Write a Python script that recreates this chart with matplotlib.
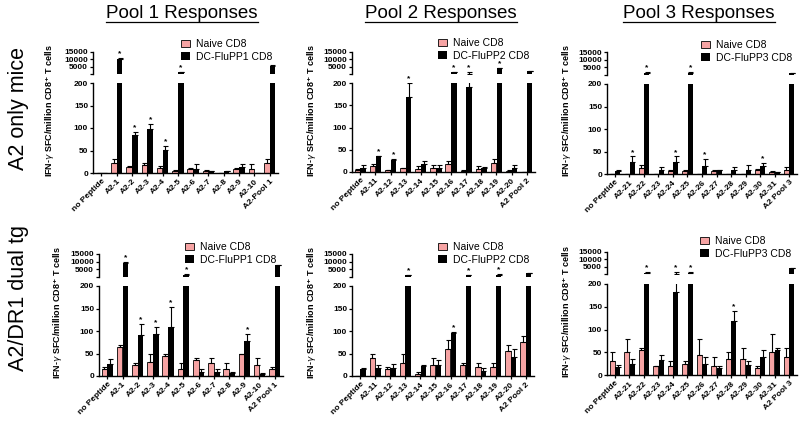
import numpy as np
import matplotlib
matplotlib.use('Agg')
import matplotlib.pyplot as plt
from matplotlib.lines import Line2D

plt.rcParams['font.family'] = ['Liberation Sans', 'DejaVu Sans']

W, H = 800, 421
NAIVE_COLOR = '#f6a3a3'

# ---------------- data ----------------
# row 1 : A2 only mice
labels_p1 = ['no Peptide', 'A2-1', 'A2-2', 'A2-3', 'A2-4', 'A2-5', 'A2-6', 'A2-7',
             'A2-8', 'A2-9', 'A2-10', 'A2-Pool 1']
a2_p1_naive = [0, 23, 13, 17, 11, 5, 9, 5, 0, 10, 10, 23]
a2_p1_naive_err = [0, 8, 3, 6, 5, 1, 3, 2, 0, 2, 10, 8]
a2_p1_dc = [0, 10000, 85, 98, 51, 1200, 10, 5, 4, 13, 0, 5500]
a2_p1_dc_err = [0, 800, 6, 11, 9, 300, 10, 0, 1, 8, 0, 600]
a2_p1_stars = [1, 2, 3, 4, 5]

labels_p2 = ['no Peptide', 'A2-11', 'A2-12', 'A2-13', 'A2-14', 'A2-15', 'A2-16', 'A2-17',
             'A2-18', 'A2-19', 'A2-20', 'A2 Pool 2']
a2_p2_naive = [5, 13, 4, 8, 7, 10, 17, 3, 7, 20, 3, 0]
a2_p2_naive_err = [1, 4, 1, 2, 7, 6, 8, 1, 6, 10, 2, 0]
a2_p2_dc = [10, 35, 28, 168, 17, 10, 1200, 190, 10, 3800, 10, 2000]
a2_p2_dc_err = [6, 2, 2, 32, 8, 6, 300, 900, 1, 400, 5, 300]
a2_p2_stars = [1, 2, 3, 6, 7, 9]

labels_p3 = ['no Peptide', 'A2-21', 'A2-22', 'A2-23', 'A2-24', 'A2-25', 'A2-26', 'A2-27',
             'A2-28', 'A2-29', 'A2-30', 'A2-31', 'A2 Pool 3']
a2_p3_naive = [0, 0, 13, 0, 7, 7, 0, 7, 0, 0, 10, 4, 10]
a2_p3_naive_err = [0, 0, 8, 0, 3, 3, 0, 3, 0, 0, 2, 2, 5]
a2_p3_dc = [7, 27, 1200, 10, 27, 1200, 17, 9, 9, 10, 17, 4, 1000]
a2_p3_dc_err = [2, 12, 300, 6, 12, 300, 17, 1, 6, 10, 8, 1, 300]
a2_p3_stars = [1, 2, 4, 5, 6, 10]

# row 2 : A2/DR1 dual tg
labels_q1 = ['no Peptide', 'A2-1', 'A2-2', 'A2-3', 'A2-4', 'A2-5', 'A2-6', 'A2-7',
             'A2-8', 'A2-9', 'A2-10', 'A2 Pool 1']
dr_p1_naive = [15, 65, 24, 31, 45, 15, 35, 30, 15, 50, 25, 15]
dr_p1_naive_err = [5, 5, 6, 19, 5, 15, 5, 10, 15, 0, 15, 5]
dr_p1_dc = [26, 9000, 91, 93, 108, 1200, 10, 9, 7, 78, 5, 7500]
dr_p1_dc_err = [11, 600, 24, 15, 45, 300, 6, 7, 3, 16, 2, 500]
dr_p1_stars = [1, 2, 3, 4, 5, 9]

dr_p2_naive = [0, 40, 15, 30, 5, 25, 60, 25, 20, 20, 55, 75]
dr_p2_naive_err = [0, 10, 5, 20, 3, 15, 20, 5, 10, 10, 15, 15]
dr_p2_dc = [15, 17, 17, 1000, 23, 25, 96, 1000, 12, 1200, 43, 2300]
dr_p2_dc_err = [3, 7, 10, 300, 2, 10, 2, 300, 5, 300, 17, 300]
dr_p2_stars = [3, 6, 7, 9]

dr_p3_naive = [30, 50, 55, 20, 20, 25, 45, 20, 35, 35, 15, 50, 40]
dr_p3_naive_err = [20, 30, 5, 0, 10, 5, 35, 20, 15, 25, 5, 40, 20]
dr_p3_dc = [18, 25, 1000, 33, 183, 1000, 25, 15, 118, 22, 40, 55, 3800]
dr_p3_dc_err = [5, 10, 300, 10, 900, 300, 15, 5, 22, 8, 15, 5, 300]
dr_p3_stars = [2, 4, 5, 8]

titles = ['Pool 1 Responses', 'Pool 2 Responses', 'Pool 3 Responses']
row_labels = ['A2 only mice', 'A2/DR1 dual tg']
dc_names = ['DC-FluPP1 CD8', 'DC-FluPP2 CD8', 'DC-FluPP3 CD8']
ylabel = r'IFN-$\gamma$ SFC/million CD8$^{\mathbf{+}}$ T cells'


def rect(x0, x1, ytop, ybot):
    return [x0 / W, 1 - ybot / H, (x1 - x0) / W, (ybot - ytop) / H]


def bold_ticks(ax):
    for t in ax.get_yticklabels() + ax.get_xticklabels():
        t.set_fontweight('bold')


def panel(fig, box, labels, naive, naive_err, dc, dc_err, stars, dc_name, leg_xy, ylab_xy):
    xl, xr, up_t, up_b, lo_t, lo_b = box
    n = len(labels)
    x = np.arange(n)
    naive = np.asarray(naive, float)
    naive_err = np.asarray(naive_err, float)
    dc = np.asarray(dc, float)
    dc_err = np.asarray(dc_err, float)
    w, off = 0.37, 0.19
    eb = dict(fmt='none', ecolor='black', elinewidth=0.8, capsize=1.8, capthick=0.8)

    lo = fig.add_axes(rect(xl, xr, lo_t, lo_b))
    hi = fig.add_axes(rect(xl, xr, up_t, up_b))

    # lower segment 0-200
    b1 = lo.bar(x - off, naive, w, color=NAIVE_COLOR, edgecolor='black', linewidth=0.6)
    b2 = lo.bar(x + off, dc, w, color='black')
    lo.errorbar(x - off, naive, yerr=[np.zeros(n), naive_err], **eb)
    lo.errorbar(x + off, dc, yerr=[np.zeros(n), dc_err], **eb)
    lo.set_ylim(0, 200)
    lo.set_xlim(-0.55, n - 0.45)
    lo.set_yticks([0, 50, 100, 150, 200])
    lo.set_xticks(x)
    lo.set_xticklabels(labels, rotation=45, ha='right', va='top', rotation_mode='anchor')

    # upper segment, only what reaches past the break
    big = dc > 200
    reach = dc + dc_err > 200
    hi.bar(x[big] + off, dc[big], w, color='black')
    hi.errorbar(x[reach] + off, dc[reach], yerr=[np.zeros(reach.sum()), dc_err[reach]], **eb)
    hi.set_ylim(0, 15000)
    hi.set_xlim(-0.55, n - 0.45)
    hi.set_yticks([0, 5000, 10000, 15000])
    hi.set_yticklabels(['', '5000', '10000', '15000'])
    hi.set_xticks([])
    hi.spines['bottom'].set_visible(False)
    hi.patch.set_alpha(0)

    for ax in (lo, hi):
        ax.spines['top'].set_visible(False)
        ax.spines['right'].set_visible(False)
        for s in ax.spines.values():
            s.set_linewidth(1.0)
        ax.tick_params(length=2.5, width=0.9, labelsize=6, pad=1)
        bold_ticks(ax)

    for i in stars:
        top = dc[i] + dc_err[i]
        tgt = hi if top > 200 else lo
        tgt.annotate('*', (x[i] + off, top), xytext=(0, 0.5), textcoords='offset points',
                     ha='center', va='bottom', fontsize=6, fontweight='bold',
                     annotation_clip=False)

    fig.legend([b1, b2], ['Naive CD8', dc_name], loc='upper left',
               bbox_to_anchor=(leg_xy[0] / W, 1 - leg_xy[1] / H), frameon=False,
               fontsize=7.5, handlelength=0.85, handleheight=0.7, handletextpad=0.6,
               labelspacing=0.25, borderpad=0, borderaxespad=0)
    fig.text(ylab_xy[0] / W, 1 - ylab_xy[1] / H, ylabel, rotation=90, ha='center',
             va='center', fontsize=6.5, fontweight='bold')


fig = plt.figure(figsize=(8, 4.21), dpi=100)

panel(fig, (93, 278, 51.5, 74, 83, 173), labels_p1, a2_p1_naive, a2_p1_naive_err,
      a2_p1_dc, a2_p1_dc_err, a2_p1_stars, dc_names[0], (181, 39), (50, 110))
panel(fig, (352, 535, 51.5, 74, 83, 172), labels_p2, a2_p2_naive, a2_p2_naive_err,
      a2_p2_dc, a2_p2_dc_err, a2_p2_stars, dc_names[1], (438, 38), (312, 110))
panel(fig, (607, 797, 52, 74.5, 84, 174), labels_p3, a2_p3_naive, a2_p3_naive_err,
      a2_p3_dc, a2_p3_dc_err, a2_p3_stars, dc_names[2], (701, 40), (567, 110))
panel(fig, (99, 283, 254, 276.5, 286, 376), labels_q1, dr_p1_naive, dr_p1_naive_err,
      dr_p1_dc, dr_p1_dc_err, dr_p1_stars, dc_names[0], (185, 242), (58, 312))
panel(fig, (352, 534, 254, 276.5, 286, 376), labels_p2, dr_p2_naive, dr_p2_naive_err,
      dr_p2_dc, dr_p2_dc_err, dr_p2_stars, dc_names[1], (438, 242), (312, 312))
panel(fig, (607, 797, 252, 274, 284, 375), labels_p3, dr_p3_naive, dr_p3_naive_err,
      dr_p3_dc, dr_p3_dc_err, dr_p3_stars, dc_names[2], (700, 236), (567, 311))

# column titles, underlined
title_texts = []
for t, cx in zip(titles, [182, 441, 699]):
    title_texts.append(fig.text(cx / W, 1 - 18 / H, t, ha='center', va='baseline', fontsize=13.5))

# row labels
fig.text(19 / W, 1 - 108 / H, row_labels[0], rotation=90, ha='center', va='center', fontsize=15.5)
fig.text(19 / W, 1 - 298 / H, row_labels[1], rotation=90, ha='center', va='center', fontsize=15.5)

fig.canvas.draw()
r = fig.canvas.get_renderer()
for tt in title_texts:
    bb = tt.get_window_extent(renderer=r)
    y = 1 - 21.5 / H
    fig.add_artist(Line2D([bb.x0 / W, bb.x1 / W], [y, y], color='black', linewidth=0.9,
                          transform=fig.transFigure))

fig.savefig('out.png', dpi=100)
